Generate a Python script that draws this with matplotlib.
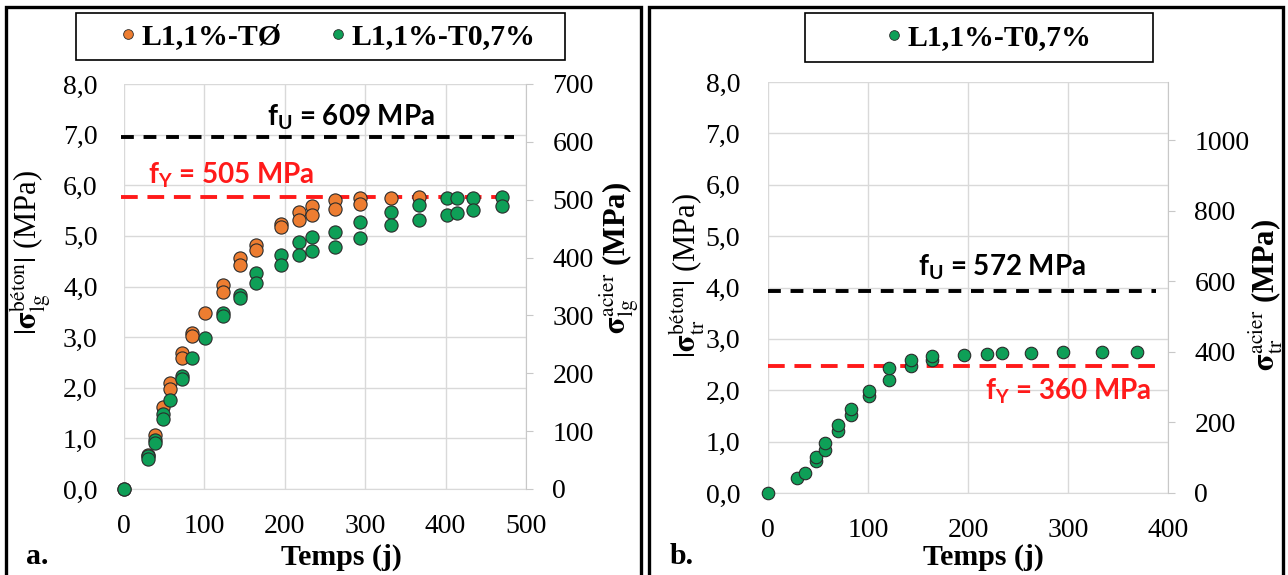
import matplotlib
matplotlib.use("Agg")
import matplotlib.pyplot as plt
from matplotlib.lines import Line2D
from matplotlib.patches import Rectangle

# ---------------- data ----------------
# Panel a : longitudinal stresses (concrete, MPa)
days_a_T0 = [0, 30, 38.6, 49, 57, 57, 72, 72, 84, 84, 101, 123, 123, 144, 144,
             164, 164, 195, 195, 218, 218, 234, 234, 262, 262, 294, 294, 332, 367]
sig_a_T0 = [0.00, 0.68, 1.06, 1.61, 2.10, 1.97, 2.69, 2.58, 3.08, 3.02, 3.48, 4.03, 3.90,
            4.56, 4.42, 4.82, 4.72, 5.24, 5.18, 5.47, 5.31, 5.59, 5.42, 5.70, 5.54,
            5.75, 5.63, 5.75, 5.77]

days_a_T07 = [0, 30, 30, 38.6, 38.6, 49, 49, 57, 72, 72, 84, 101, 123, 123, 144, 144,
              164, 164, 195, 195, 218, 218, 234, 234, 262, 262, 294, 294, 332, 332,
              367, 367, 402, 402, 414, 414, 434, 434, 470, 470]
sig_a_T07 = [0.00, 0.66, 0.60, 0.96, 0.90, 1.48, 1.39, 1.76, 2.24, 2.17, 2.58, 2.99,
             3.48, 3.41, 3.84, 3.77, 4.26, 4.07, 4.62, 4.42, 4.88, 4.63, 4.98, 4.71,
             5.08, 4.78, 5.27, 4.95, 5.48, 5.21, 5.61, 5.31, 5.75, 5.41, 5.75, 5.45,
             5.75, 5.52, 5.76, 5.60]

# Panel b : transverse stresses (concrete, MPa)
days_b_T07 = [0, 29, 36.5, 48, 48, 56.5, 56.5, 70, 70, 82.6, 82.6, 101, 101, 121, 121,
              143, 143, 163.5, 163.5, 196, 219, 234, 262.5, 295, 334, 368.6]
sig_b_T07 = [0.00, 0.29, 0.39, 0.62, 0.71, 0.84, 0.97, 1.20, 1.33, 1.52, 1.63, 1.88, 1.98,
             2.19, 2.43, 2.48, 2.59, 2.58, 2.66, 2.69, 2.70, 2.72, 2.72, 2.75, 2.75, 2.75]

# steel strengths (MPa)
fu_a, fy_a = 609, 505
fu_b, fy_b = 572, 360

# axis ranges / ticks
conc_ticks = [0, 1, 2, 3, 4, 5, 6, 7, 8]
conc_labels = ["0,0", "1,0", "2,0", "3,0", "4,0", "5,0", "6,0", "7,0", "8,0"]
steel_ticks_a = [0, 100, 200, 300, 400, 500, 600, 700]
steel_ticks_b = [0, 200, 400, 600, 800, 1000]
xticks_a = [0, 100, 200, 300, 400, 500]
xticks_b = [0, 100, 200, 300, 400]
steel_max_a = 700
steel_max_b = 1165
conc_max = 8

legend_a = ["L1,1%-TØ", "L1,1%-T0,7%"]
legend_b = ["L1,1%-T0,7%"]

# ---------------- style ----------------
W, H = 1288, 575
ORANGE = "#ED7D31"
GREEN = "#0E9F57"
EDGE = "#2b2b2b"
GRID = "#D9D9D9"
SERIF = "Liberation Serif"

plt.rcParams["font.family"] = [SERIF, "DejaVu Serif"]
plt.rcParams["mathtext.fontset"] = "custom"
plt.rcParams["mathtext.rm"] = "Lato:bold"
plt.rcParams["mathtext.bf"] = "Lato:bold"
plt.rcParams["mathtext.it"] = "Lato:bold"

fig = plt.figure(figsize=(W / 100, H / 100), dpi=100)
fig.patch.set_facecolor("white")


def rect(x0, y0, x1, y1):
    return [x0 / W, 1 - y1 / H, (x1 - x0) / W, (y1 - y0) / H]


def fx(x):
    return x / W


def fy(y):
    return 1 - y / H


# panel frames
for (x0, x1) in [(6, 641), (649, 1283)]:
    fig.patches.append(Rectangle((fx(x0), fy(578)), (x1 - x0) / W, (578 - 7) / H,
                                 transform=fig.transFigure, fill=False,
                                 edgecolor="black", linewidth=2.4, zorder=0))


def setup_axes(ax, xmax, xticks, steel_max, steel_ticks, ypad, y2pad):
    ax.set_xlim(0, xmax)
    ax.set_ylim(0, conc_max)
    ax.set_xticks(xticks)
    ax.set_yticks(conc_ticks)
    ax.set_yticklabels(conc_labels)
    ax.grid(True, color=GRID, linewidth=1.0, zorder=0)
    ax.set_axisbelow(True)
    for s in ["top", "left", "right"]:
        ax.spines[s].set_visible(False)
    ax.spines["bottom"].set_color(GRID)
    ax.tick_params(axis="both", length=0, labelsize=20)
    ax.tick_params(axis="x", pad=18)
    ax.tick_params(axis="y", pad=ypad)
    ax2 = ax.twinx()
    ax2.set_ylim(0, steel_max)
    ax2.set_yticks(steel_ticks)
    for s in ["top", "left", "bottom"]:
        ax2.spines[s].set_visible(False)
    ax2.spines["right"].set_color("#C8C8C8")
    ax2.tick_params(axis="y", length=5, color="#C8C8C8", labelsize=20, pad=y2pad)
    ax2.patch.set_visible(False)
    return ax2


# ---------- panel a ----------
axA = fig.add_axes(rect(124, 84, 526, 489))
axA2 = setup_axes(axA, 500, xticks_a, steel_max_a, steel_ticks_a, 19, 14)
kA = steel_max_a / conc_max
axA.hlines(fu_a / kA, -4, 485, colors="black", linewidth=2.8,
           linestyles=(0, (3.3, 2.5)), zorder=2, clip_on=False)
axA.hlines(fy_a / kA, -4, 485, colors="#FF1A1A", linewidth=2.8,
           linestyles=(0, (4.3, 2.5)), zorder=2, clip_on=False)
axA.plot(days_a_T0, sig_a_T0, "o", color=ORANGE, markersize=9.5, markeredgecolor=EDGE,
         markeredgewidth=0.8, zorder=3, clip_on=False)
axA.plot(days_a_T07, sig_a_T07, "o", color=GREEN, markersize=9.5, markeredgecolor=EDGE,
         markeredgewidth=0.8, zorder=4, clip_on=False)

# ---------- panel b ----------
axB = fig.add_axes(rect(768, 82, 1168, 493))
axB2 = setup_axes(axB, 400, xticks_b, steel_max_b, steel_ticks_b, 20, 14)
kB = steel_max_b / conc_max
axB.hlines(fu_b / kB, 0, 388, colors="black", linewidth=2.8,
           linestyles=(0, (3.3, 2.5)), zorder=2, clip_on=False)
axB.hlines(fy_b / kB, 0, 388, colors="#FF1A1A", linewidth=2.8,
           linestyles=(0, (4.3, 2.5)), zorder=2, clip_on=False)
axB.plot(days_b_T07, sig_b_T07, "o", color=GREEN, markersize=9, markeredgecolor=EDGE,
         markeredgewidth=0.8, zorder=4, clip_on=False)

# ---------- annotations ----------
ann_kw = dict(fontfamily="Lato", fontweight="bold", fontsize=20, ha="center",
              va="baseline", math_fontfamily="custom")
fig.text(fx(351), fy(125), r"f$_\mathbf{U}$ = %d MPa" % fu_a, color="black", **ann_kw)
fig.text(fx(231), fy(183), r"f$_\mathbf{Y}$ = %d MPa" % fy_a, color="#FF1A1A", **ann_kw)
fig.text(fx(1002), fy(275), r"f$_\mathbf{U}$ = %d MPa" % fu_b, color="black", **ann_kw)
fig.text(fx(1068), fy(400), r"f$_\mathbf{Y}$ = %d MPa" % fy_b, color="#FF1A1A", **ann_kw)

# ---------- axis titles ----------
xl_kw = dict(fontfamily=SERIF, fontweight="bold", fontsize=21.5, ha="center", va="center")
fig.text(fx(341), fy(557), "Temps (j)", **xl_kw)
fig.text(fx(983), fy(557), "Temps (j)", **xl_kw)
fig.text(fx(37), fy(557), "a.", **xl_kw)
fig.text(fx(682), fy(557), "b.", **xl_kw)

yl_kw = dict(fontfamily=SERIF, fontsize=22, ha="center", va="center", rotation=90,
             math_fontfamily="stix")
fig.text(fx(31), fy(252), r"$|\mathbf{\sigma}_{\mathrm{lg}}^{\mathrm{béton}}|$ (MPa)", **yl_kw)
fig.text(fx(619), fy(258), r"$\mathbf{\sigma}_{\mathrm{lg}}^{\mathrm{acier}}$ (MPa)",
         fontweight="bold", **yl_kw)
fig.text(fx(686), fy(275), r"$|\mathbf{\sigma}_{\mathrm{tr}}^{\mathrm{béton}}|$ (MPa)", **yl_kw)
fig.text(fx(1266), fy(295), r"$\mathbf{\sigma}_{\mathrm{tr}}^{\mathrm{acier}}$ (MPa)",
         fontweight="bold", **yl_kw)

# ---------- legends ----------
leg_font = dict(family=SERIF, weight="bold", size=21.5)


def make_legend(labels, colors, box, center):
    x0, y0, x1, y1 = box
    fig.patches.append(Rectangle((fx(x0), fy(y1)), (x1 - x0) / W, (y1 - y0) / H,
                                 transform=fig.transFigure, fill=False,
                                 edgecolor="black", linewidth=1.2))
    handles = [Line2D([], [], linestyle="none", marker="o", markersize=7, color=c,
                      markeredgecolor=EDGE, markeredgewidth=0.6) for c in colors]
    fig.legend(handles, labels, loc="center", bbox_to_anchor=(fx(center[0]), fy(center[1])),
               ncol=len(labels), frameon=False, prop=leg_font, handlelength=0.6,
               handletextpad=0.15, columnspacing=1.6, borderpad=0)


make_legend(legend_a, [ORANGE, GREEN], (76, 13, 565, 60), (327, 37))
make_legend(legend_b, [GREEN], (805, 13, 1153, 62), (988, 38))

fig.savefig("out.png", dpi=100, facecolor="white")
